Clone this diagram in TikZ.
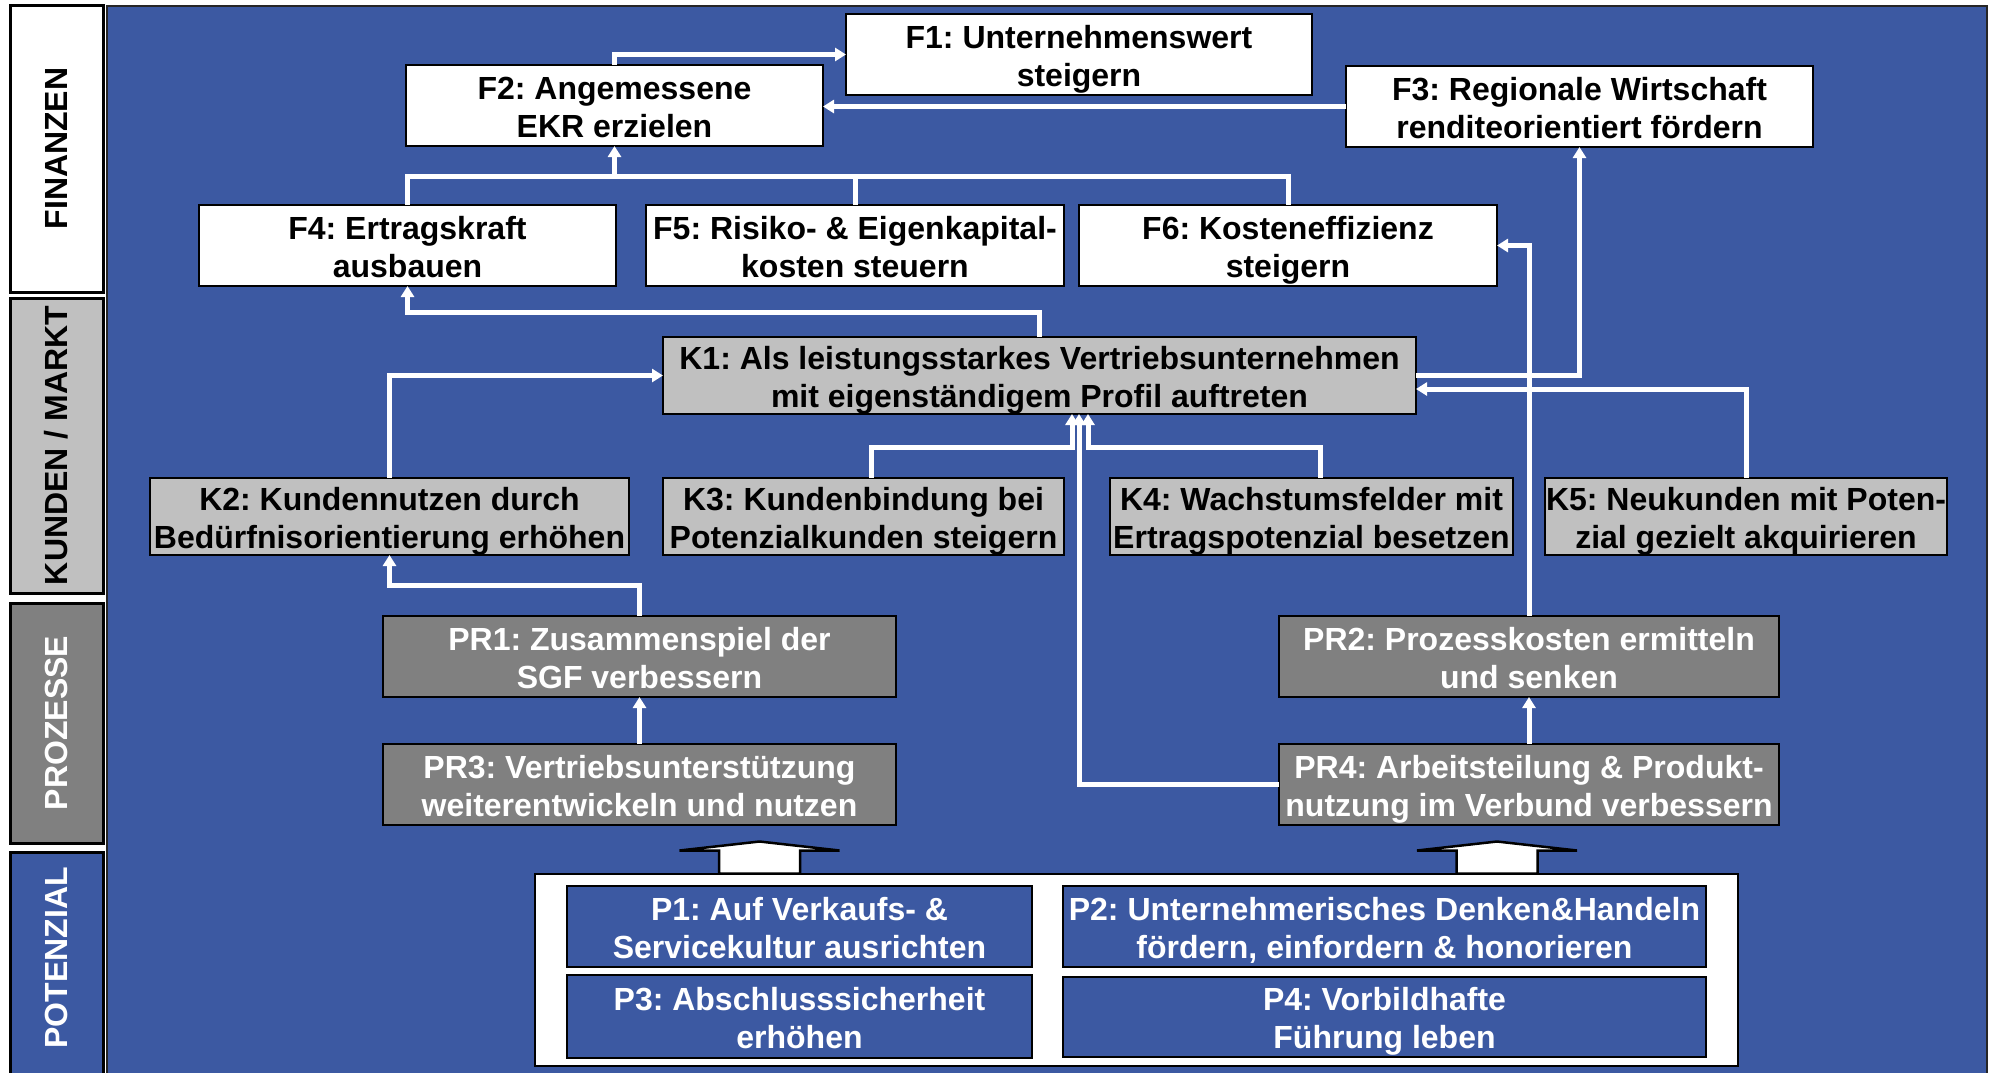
\documentclass[tikz,border=0pt]{standalone}
\usepackage{fontspec}
\setmainfont{Liberation Sans}
\usetikzlibrary{arrows.meta,calc}
\definecolor{panelblue}{RGB}{60,89,162}
\definecolor{kgray}{RGB}{192,192,192}
\definecolor{prgray}{RGB}{128,128,128}
\frenchspacing
% struts that fix the first-line height and last-line depth of two-line labels
\newcommand\boxtop{\rule{0pt}{32pt}}
\newcommand\boxbot{\rule[-7pt]{0pt}{7pt}}
\newcommand\twolines[2]{\boxtop #1\\#2\boxbot}
\begin{document}
\begin{tikzpicture}[x=1pt,y=-1pt,
  every node/.style={font=\bfseries\fontsize{32}{38}\selectfont, inner sep=0pt, outer sep=0pt},
  frame/.style={draw=black, line width=2.6pt},
  box/.style={frame, align=center},
  fbox/.style={box, fill=white, text=black},
  kbox/.style={box, fill=kgray, text=black},
  prbox/.style={box, fill=prgray, text=white},
  pbox/.style={box, fill=panelblue, text=white},
  lane/.style={draw=black, line width=3pt, minimum width=93pt},
  lanetext/.style={rotate=90},
  link/.style={draw=white, line width=5pt, -{Triangle[length=11pt,width=13pt]}},
  bus/.style={draw=white, line width=5pt},
  blockarrow/.style={fill=white, draw=black, line width=2.5pt, line join=miter},
  pics/blockup/.style={code={
    \draw[blockarrow] (-40.5,0) -- (-40.5,-23) -- (-80,-23) -- (0,-32)
      -- (80,-23) -- (40.5,-23) -- (40.5,0) -- cycle;}},
]
\useasboundingbox (0,0) rectangle (1990,1072);
\clip (0,0) rectangle (1990,1072);
\fill[white] (0,0) rectangle (1990,1072);

% perspective lanes on the left
\node[lane, fill=white, minimum height=287pt] (lfin) at (56.5,148.5) {};
\node[lanetext, text=black] (lfin-t) at (lfin.center) {FINANZEN};
\node[lane, fill=kgray, minimum height=295pt] (lkun) at (56.5,445.5) {};
\node[lanetext, text=black] (lkun-t) at (lkun.center) {KUNDEN / MARKT};
\node[lane, fill=prgray, minimum height=240pt] (lpro) at (56.5,723) {};
\node[lanetext, text=white] (lpro-t) at (lpro.center) {PROZESSE};
\node[lane, fill=panelblue, minimum height=240pt] (lpot) at (56.5,972) {};
\node[lanetext, text=white] (lpot-t) at (56.5,958) {POTENZIAL};

% main panel
\path[fill=panelblue, draw=black!85, line width=1.5pt] (107,6) rectangle (1987,1090);

% finance objectives
\node[fbox, minimum width=466pt, minimum height=81pt] (F1) at (1079,54.5) {\twolines{F1: Unternehmenswert}{steigern}};
\node[fbox, minimum width=417pt, minimum height=81pt] (F2) at (614.5,105.5) {\twolines{F2: Angemessene}{EKR erzielen}};
\node[fbox, minimum width=467pt, minimum height=81pt] (F3) at (1579.5,106.5) {\twolines{F3: Regionale Wirtschaft}{renditeorientiert fördern}};
\node[fbox, minimum width=417pt, minimum height=81pt] (F4) at (407.5,245.5) {\twolines{F4: Ertragskraft}{ausbauen}};
\node[fbox, minimum width=418pt, minimum height=81pt] (F5) at (855,245.5) {\twolines{F5: Risiko- \& Eigenkapital-}{kosten steuern}};
\node[fbox, minimum width=418pt, minimum height=81pt] (F6) at (1288,245.5) {\twolines{F6: Kosteneffizienz}{steigern}};

% customer objectives
\node[kbox, minimum width=753pt, minimum height=77pt] (K1) at (1039.5,375.5) {\twolines{K1: Als leistungsstarkes Vertriebsunternehmen}{mit eigenständigem Profil auftreten}};
\node[kbox, minimum width=479pt, minimum height=77pt] (K2) at (389.5,516.5) {\twolines{K2: Kundennutzen durch}{Bedürfnisorientierung erhöhen}};
\node[kbox, minimum width=401pt, minimum height=77pt] (K3) at (863.5,516.5) {\twolines{K3: Kundenbindung bei}{Potenzialkunden steigern}};
\node[kbox, minimum width=403pt, minimum height=77pt] (K4) at (1311.5,516.5) {\twolines{K4: Wachstumsfelder mit}{Ertragspotenzial besetzen}};
\node[kbox, minimum width=402pt, minimum height=77pt] (K5) at (1746,516.5) {\twolines{K5: Neukunden mit Poten-}{zial gezielt akquirieren}};

% process objectives
\node[prbox, minimum width=513pt, minimum height=81pt] (PR1) at (639.5,656.5) {\twolines{PR1: Zusammenspiel der}{SGF verbessern}};
\node[prbox, minimum width=500pt, minimum height=81pt] (PR2) at (1529,656.5) {\twolines{PR2: Prozesskosten ermitteln}{und senken}};
\node[prbox, minimum width=513pt, minimum height=81pt] (PR3) at (639.5,784.5) {\twolines{PR3: Vertriebsunterstützung}{weiterentwickeln und nutzen}};
\node[prbox, minimum width=500pt, minimum height=81pt] (PR4) at (1529,784.5) {\twolines{PR4: Arbeitsteilung \& Produkt-}{nutzung im Verbund verbessern}};

% potential objectives
\node[frame, fill=white, minimum width=1203pt, minimum height=192pt] (Pset) at (1136.5,970) {};
\node[pbox, minimum width=465pt, minimum height=81pt] (P1) at (799.5,926.5) {\twolines{P1: Auf Verkaufs- \&}{Servicekultur ausrichten}};
\node[pbox, minimum width=643pt, minimum height=81pt] (P2) at (1384.5,926.5) {\twolines{P2: Unternehmerisches Denken\&Handeln}{fördern, einfordern \& honorieren}};
\node[pbox, minimum width=465pt, minimum height=83pt] (P3) at (799.5,1016.5) {\twolines{P3: Abschlusssicherheit}{erhöhen}};
\node[pbox, minimum width=643pt, minimum height=80pt] (P4) at (1384.5,1017) {\twolines{P4: Vorbildhafte}{Führung leben}};

% block arrows from the potential set
\coordinate (ba1) at (759.5,873.5);
\coordinate (ba2) at (1497,873.5);
\pic at (ba1) {blockup};
\pic at (ba2) {blockup};

% finance links
\draw[link] (F2.north) |- (F1.west);
\draw[link] (F3.west) -- (F2.east |- F3.west);
\coordinate (fbus) at (614.5,176);
\draw[bus] (F4.north) |- (fbus) -| (F6.north);
\draw[bus] (F5.north) -- (F5.north |- fbus);
\draw[link] (fbus) -- (F2.south);

% customer links
\draw[link] (K1.north) -- ++(0,-25) -| (F4.south);
\draw[link] (K2.north) |- (K1.west);
\draw[link] ([xshift=7.5pt]K3.north) -- ++(0,-31) -| ([xshift=32.5pt]K1.south);
\draw[link] ([xshift=8.5pt]K4.north) -- ++(0,-31) -| ([xshift=48.5pt]K1.south);
\draw[link] (PR4.west) -| ([xshift=39.5pt]K1.south);
\draw[link] (K5.north) |- ([yshift=-13.5pt]K1.east);
\draw[link] (K1.east) -| (F3.south);

% process links
\draw[link] (PR2.north) |- (F6.east);
\draw[link] (PR1.north) -- ++(0,-31) -| (K2.south);
\draw[link] (PR3.north) -- (PR1.south);
\draw[link] (PR4.north) -- (PR2.south);
\end{tikzpicture}
\end{document}
